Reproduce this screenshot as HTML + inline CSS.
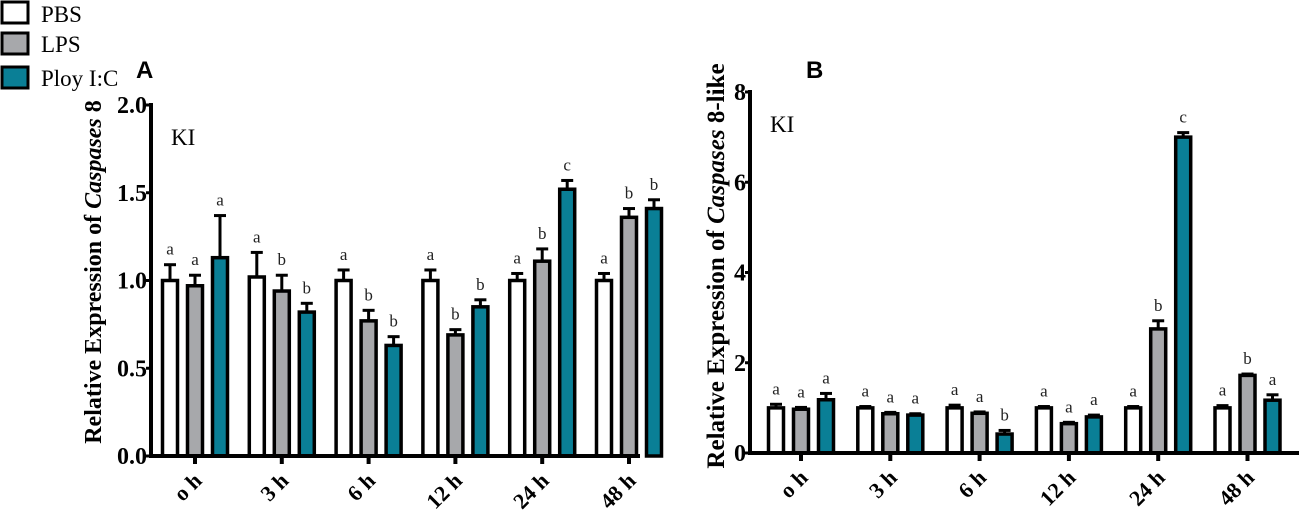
<!DOCTYPE html>
<html><head><meta charset="utf-8"><style>
body{margin:0;background:#fff;width:1299px;height:516px;overflow:hidden}
svg{display:block}
text{font-family:"Liberation Serif",serif}
</style></head><body>
<svg id="svg" width="1299" height="516" viewBox="0 0 1299 516">
<g>
<rect x="2" y="2" width="26" height="21" fill="#fff" stroke="#000" stroke-width="3"/>
<text x="41" y="22" font-size="23">PBS</text>
<rect x="2" y="33" width="26" height="21" fill="#a7a8ab" stroke="#000" stroke-width="3"/>
<text x="41" y="52" font-size="23">LPS</text>
<rect x="2" y="67" width="26" height="21" fill="#0a7f96" stroke="#000" stroke-width="3"/>
<text x="41" y="86" font-size="23">Ploy I:C</text>
</g>
<text x="136" y="78" font-size="24" font-weight="bold" style="font-family:'Liberation Sans',sans-serif">A</text>
<text x="806" y="78" font-size="24" font-weight="bold" style="font-family:'Liberation Sans',sans-serif">B</text>
</svg>
<script>
const categories=["o h","3 h","6 h","12 h","24 h","48 h"];
const seriesNames=["PBS","LPS","Ploy I:C"];
const aPBS=[1.0,1.02,1.0,1.0,1.0,1.0];
const aLPS=[0.97,0.94,0.77,0.69,1.11,1.36];
const aPIC=[1.13,0.82,0.63,0.85,1.52,1.41];
const aPBSerr=[0.09,0.14,0.06,0.06,0.04,0.04];
const aLPSerr=[0.06,0.09,0.06,0.03,0.07,0.05];
const aPICerr=[0.24,0.05,0.05,0.04,0.05,0.05];
const aLetters=[["a","a","a"],["a","b","b"],["a","b","b"],["a","b","b"],["a","b","c"],["a","b","b"]];
const aTicks=["0.0","0.5","1.0","1.5","2.0"];
const aTickVals=[0,0.5,1,1.5,2];
const bPBS=[1.0,1.0,1.0,1.0,1.0,1.0];
const bLPS=[0.97,0.87,0.88,0.65,2.75,1.72];
const bPIC=[1.18,0.84,0.42,0.8,7.0,1.17];
const bPBSerr=[0.08,0.03,0.06,0.03,0.03,0.05];
const bLPSerr=[0.04,0.03,0.03,0.03,0.18,0.03];
const bPIC_err=[0.14,0.03,0.08,0.04,0.1,0.12];
const bLetters=[["a","a","a"],["a","a","a"],["a","a","b"],["a","a","a"],["a","b","c"],["a","b","a"]];
const bTicks=["0","2","4","6","8"];
const bTickVals=[0,2,4,6,8];
const fills=["#ffffff","#a7a8ab","#0a7f96"];
const NS="http://www.w3.org/2000/svg";
const svg=document.getElementById('svg');
function el(t,a,p){const e=document.createElementNS(NS,t);for(const k in a)e.setAttribute(k,a[k]);(p||svg).appendChild(e);return e;}
function panel(cfg){
  const g=el('g',{});
  
  
  const y=v=>cfg.y0-(v/cfg.max)*(cfg.y0-cfg.yTop);
  const x=i=>cfg.x0h+i*cfg.step;
  const offs=[-25,0,25];
  const vals=[cfg.s1,cfg.s2,cfg.s3], errs=[cfg.e1,cfg.e2,cfg.e3];
  for(let i=0;i<categories.length;i++){
    for(let s=0;s<3;s++){
      const cx=x(i)+offs[s], v=vals[s][i], top=y(v), et=y(v+errs[s][i]);
      const ln=el('line',{x1:cx,x2:cx,y1:top,y2:et,stroke:'#000','stroke-width':3},g);
      
      
      const cap=el('line',{x1:cx-6,x2:cx+6,y1:et,y2:et,stroke:'#000','stroke-width':3},g);
      
      
      const r=el('rect',{x:cx-7.5,y:top,width:15,height:cfg.y0-top,fill:fills[s],stroke:'#000','stroke-width':3.5},g);
      
      
      const t=el('text',{x:cx,y:et-10,'font-size':17,'text-anchor':'middle',fill:'#222'},g);
      t.textContent=cfg.letters[i][s];
      
      
    }
    const tk=el('line',{x1:x(i),x2:x(i),y1:cfg.y0,y2:cfg.y0+8,stroke:'#000','stroke-width':4},g);
    
    
    const lx=x(i)+8, ly=cfg.y0+26;
    const lb=el('text',{x:lx,y:ly,'font-size':22,'font-weight':'bold','text-anchor':'end',transform:`rotate(-45 ${lx} ${ly})`},g);
    lb.textContent=categories[i];
    
    
  }
  const ya=el('line',{x1:cfg.xa,x2:cfg.xa,y1:cfg.yTop-2,y2:cfg.y0+2,stroke:'#000','stroke-width':4},g);
  
  
  const xa=el('line',{x1:cfg.xa,x2:cfg.xEnd,y1:cfg.y0,y2:cfg.y0,stroke:'#000','stroke-width':4},g);
  
  
  cfg.tickVals.forEach((v,k)=>{
    const t=el('line',{x1:cfg.xa-5,x2:cfg.xa,y1:y(v),y2:y(v),stroke:'#000','stroke-width':3},g);
    
    
    const tl=el('text',{x:cfg.xa-4,y:y(v)+8,'font-size':24,'font-weight':'bold','text-anchor':'end'},g);
    tl.textContent=cfg.ticks[k];
    
    
  });
  const ki=el('text',{x:cfg.xa+20,y:cfg.yTop+40,'font-size':23},g);
  ki.textContent='KI';
  
  
  const cy=cfg.ylc;
  const yl=el('text',{x:cfg.ylx,y:cy,'font-size':cfg.ylfs,'font-weight':'bold','text-anchor':'middle',transform:`rotate(-90 ${cfg.ylx} ${cy})`},g);
  yl.innerHTML='Relative Expression of <tspan font-style="italic">Caspases</tspan> '+cfg.gene;
  
  
}
panel({name:'chart-a',x0h:195,step:86.8,xa:151,xEnd:640,y0:456,yTop:105,max:2,s1:aPBS,s2:aLPS,s3:aPIC,e1:aPBSerr,e2:aLPSerr,e3:aPICerr,letters:aLetters,ticks:aTicks,tickVals:aTickVals,ylx:101,ylc:272,ylfs:24,gene:'8'});
panel({name:'chart-b',x0h:801,step:89.3,xa:750,xEnd:1299,y0:453,yTop:92,max:8,s1:bPBS,s2:bLPS,s3:bPIC,e1:bPBSerr,e2:bLPSerr,e3:bPIC_err,letters:bLetters,ticks:bTicks,tickVals:bTickVals,ylx:724,ylc:266,ylfs:25,gene:'8-like'});
</script>
</body></html>
